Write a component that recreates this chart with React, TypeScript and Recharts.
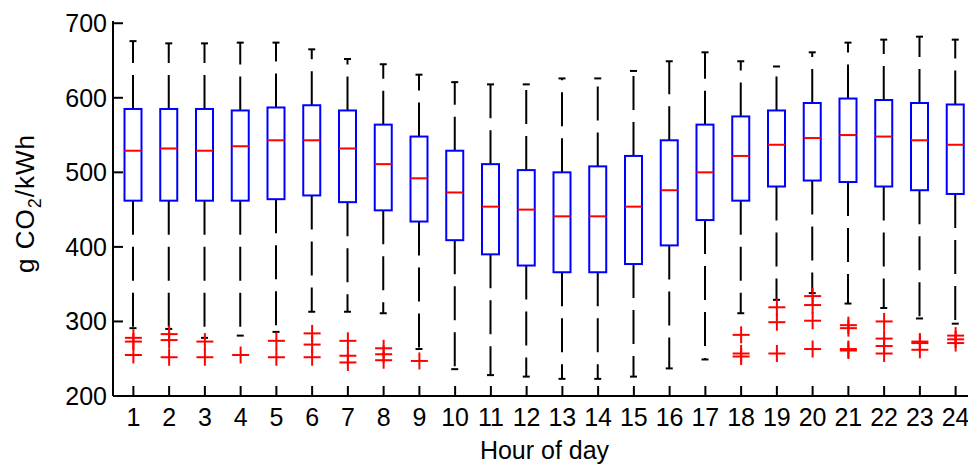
import { ComposedChart, Bar, Scatter, XAxis, YAxis } from "recharts";

const hours = [1, 2, 3, 4, 5, 6, 7, 8, 9, 10, 11, 12, 13, 14, 15, 16, 17, 18, 19, 20, 21, 22, 23, 24];
const upperWhisker = [676, 673, 673, 674, 674, 665, 652, 645, 631, 621, 618, 618, 626, 626, 636, 649, 661, 649, 642, 661, 674, 678, 682, 678];
const q3 = [585, 585, 585, 583, 587, 590, 583, 564, 548, 529, 511, 503, 500, 508, 522, 543, 564, 575, 583, 593, 599, 597, 593, 591];
const medians = [529, 532, 529, 535, 543, 543, 532, 511, 492, 473, 454, 450, 441, 441, 454, 476, 500, 522, 537, 546, 550, 548, 543, 537];
const q1 = [462, 462, 462, 462, 464, 469, 460, 449, 434, 409, 390, 375, 366, 366, 377, 402, 436, 462, 481, 489, 487, 481, 476, 471];
const lowerWhisker = [291, 290, 278, 281, 286, 313, 313, 311, 263, 236, 228, 226, 223, 223, 226, 237, 249, 311, 329, 338, 324, 318, 304, 297];
const outliers = [
  [278, 273, 255],
  [283, 275, 252],
  [273, 252],
  [255],
  [274, 252],
  [284, 269, 252],
  [274, 254, 245],
  [264, 256, 248],
  [247],
  [], [], [], [], [], [], [], [],
  [282, 257, 253],
  [319, 299, 257],
  [334, 322, 301, 263],
  [295, 291, 263, 261],
  [300, 277, 267, 257],
  [273, 271, 262],
  [281, 276, 271],
];
const yTicks = [200, 300, 400, 500, 600, 700];

const boxData = hours.map((h, i) => ({
  hour: h,
  range: [lowerWhisker[i], upperWhisker[i]],
  q1: q1[i],
  median: medians[i],
  q3: q3[i],
}));
const outlierData = hours.flatMap((h, i) => outliers[i].map((v) => ({ hour: h, value: v })));

const FONT = "'Liberation Sans', Arial, sans-serif";

// box + dashed whiskers, positions derived from the bar's own scaled range
const BoxShape = (props: any) => {
  const { x, y, width, height, payload } = props;
  const [lo, hi] = payload.range;
  const k = height / (hi - lo);
  const py = (v: number) => y + (hi - v) * k;
  const cx = x + width / 2;
  const top = py(payload.q3);
  const bot = py(payload.q1);
  const med = py(payload.median);
  const yHi = py(hi);
  const yLo = py(lo);
  return (
    <g>
      <line x1={cx} y1={top} x2={cx} y2={yHi} stroke="#000" strokeWidth={2} strokeDasharray="34 12" />
      <line x1={cx} y1={bot} x2={cx} y2={yLo} stroke="#000" strokeWidth={2} strokeDasharray="34 12" />
      <line x1={cx - 3.5} y1={yHi} x2={cx + 3.5} y2={yHi} stroke="#000" strokeWidth={2} />
      <line x1={cx - 3.5} y1={yLo} x2={cx + 3.5} y2={yLo} stroke="#000" strokeWidth={2} />
      <rect x={x} y={top} width={width} height={bot - top} fill="#fff" stroke="#0000ff" strokeWidth={2} />
      <line x1={x} y1={med} x2={x + width} y2={med} stroke="#ff0000" strokeWidth={2} />
    </g>
  );
};

const Plus = (props: any) => {
  const { cx, cy } = props;
  return (
    <g>
      <line x1={cx - 8.5} y1={cy} x2={cx + 8.5} y2={cy} stroke="#ff0000" strokeWidth={2} />
      <line x1={cx} y1={cy - 8.5} x2={cx} y2={cy + 8.5} stroke="#ff0000" strokeWidth={2} />
    </g>
  );
};

const YLabel = (props: any) => {
  const { viewBox } = props;
  const cx = 34;
  const cy = viewBox.y + viewBox.height / 2 - 5;
  return (
    <text
      x={cx}
      y={cy}
      transform={`rotate(-90 ${cx} ${cy})`}
      textAnchor="middle"
      fontFamily={FONT}
      fontSize={26}
      letterSpacing={1}
      fill="#000"
    >
      g CO<tspan dy={7} fontSize={18}>2</tspan>
      <tspan dy={-7}>/kWh</tspan>
    </text>
  );
};

export default function App() {
  const tickStyle = { fontFamily: FONT, fontSize: 25, fill: "#000" };
  return (
    <div style={{ position: "absolute", left: 0, top: 0, width: 968, height: 465, overflow: "hidden", background: "#fff" }}>
      <ComposedChart width={1000} height={465} data={boxData} margin={{ top: 21, right: 24, bottom: 0, left: 0 }}>
        <XAxis
          dataKey="hour"
          type="number"
          domain={[0.43, 24.57]}
          ticks={hours}
          interval={0}
          allowDataOverflow
          height={69}
          tickSize={-10}
          tickMargin={22}
          tick={tickStyle}
          axisLine={{ stroke: "#000", strokeWidth: 2 }}
          tickLine={{ stroke: "#000", strokeWidth: 2 }}
          label={{ value: "Hour of day", position: "insideBottom", offset: 6, style: { fontFamily: FONT, fontSize: 25, fill: "#000" } }}
        />
        <XAxis
          xAxisId="top"
          orientation="top"
          dataKey="hour"
          type="number"
          domain={[0.43, 24.57]}
          ticks={hours}
          interval={0}
          allowDataOverflow
          height={0}
          tickSize={-9}
          tick={false}
          axisLine={{ stroke: "#000", strokeWidth: 2 }}
          tickLine={{ stroke: "#000", strokeWidth: 2 }}
        />
        <YAxis
          type="number"
          domain={[200, 703]}
          ticks={yTicks}
          interval={0}
          allowDataOverflow
          width={113}
          tickSize={-10}
          tickMargin={16}
          tick={tickStyle}
          axisLine={{ stroke: "#000", strokeWidth: 2 }}
          tickLine={{ stroke: "#000", strokeWidth: 2 }}
          label={<YLabel />}
        />
        <YAxis
          yAxisId="right"
          orientation="right"
          type="number"
          domain={[200, 703]}
          ticks={yTicks}
          interval={0}
          allowDataOverflow
          width={0}
          tickSize={-10}
          tick={false}
          axisLine={{ stroke: "#000", strokeWidth: 2 }}
          tickLine={{ stroke: "#000", strokeWidth: 2 }}
        />
        <Bar dataKey="range" barSize={17} shape={<BoxShape />} isAnimationActive={false} />
        <Scatter data={outlierData} dataKey="value" shape={<Plus />} isAnimationActive={false} />
      </ComposedChart>
    </div>
  );
}
